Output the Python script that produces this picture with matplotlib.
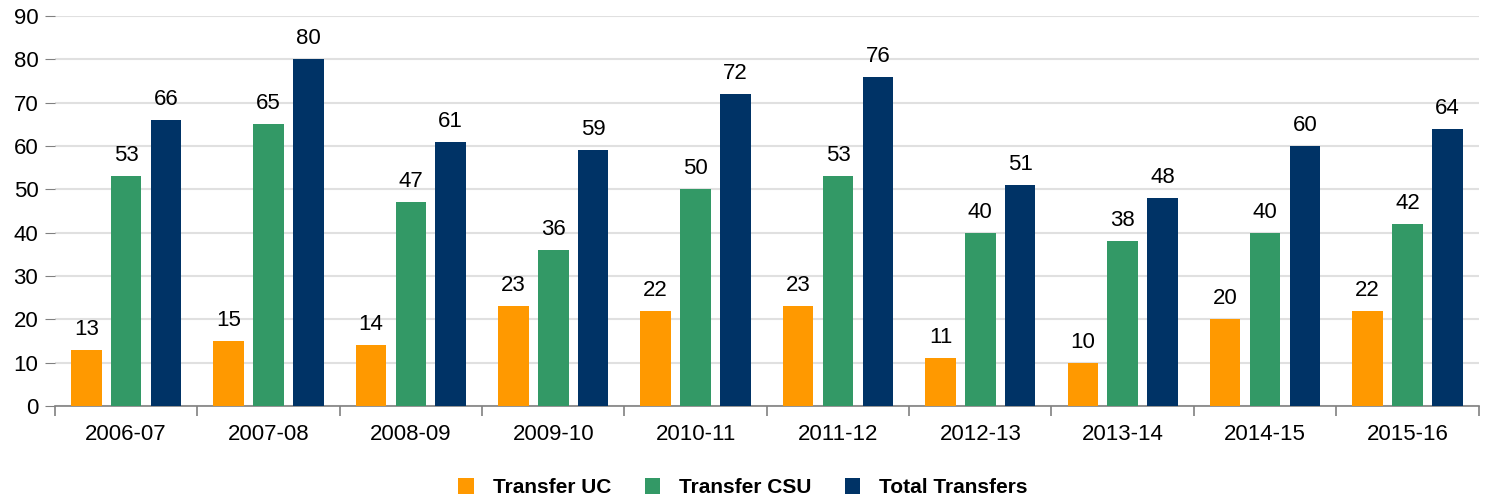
import numpy as np
import matplotlib.pyplot as plt

years = ["2006-07", "2007-08", "2008-09", "2009-10", "2010-11",
         "2011-12", "2012-13", "2013-14", "2014-15", "2015-16"]
transfer_uc = [13, 15, 14, 23, 22, 23, 11, 10, 20, 22]
transfer_csu = [53, 65, 47, 36, 50, 53, 40, 38, 40, 42]
total_transfers = [66, 80, 61, 59, 72, 76, 51, 48, 60, 64]

series = [("Transfer UC", transfer_uc, "#FF9900"),
          ("Transfer CSU", transfer_csu, "#339966"),
          ("Total Transfers", total_transfers, "#003366")]

plt.rcParams['font.family'] = ['Liberation Sans', 'DejaVu Sans']

fig = plt.figure(figsize=(14.86, 5.01), dpi=100)
ax = fig.add_axes([0.037, 0.19, 0.958, 0.778])

x = np.arange(len(years))
w = 0.215
step = 0.28
for i, (name, vals, col) in enumerate(series):
    pos = x + (i - 1) * step
    bars = ax.bar(pos, vals, width=w, color=col, label=name, zorder=3)
    for p, v in zip(pos, vals):
        ax.text(p, v + 2.3, str(v), ha='center', va='bottom', fontsize=16)

ax.set_xlim(-0.5, len(years) - 0.5)
ax.set_ylim(0, 90)
ax.set_yticks(range(0, 91, 10))
ax.tick_params(axis='y', labelsize=16, length=7, color='#808080', pad=5)
ax.grid(axis='y', color='#E0E0E0', linewidth=1.5, zorder=0)

ax.set_xticks(x)
ax.set_xticklabels(years, fontsize=16)
ax.tick_params(axis='x', length=0, pad=13)
ax.set_xticks(np.arange(-0.5, len(years)), minor=True)
ax.tick_params(axis='x', which='minor', length=7, color='#808080', width=1.2)

for s in ['top', 'right', 'left']:
    ax.spines[s].set_visible(False)
ax.spines['bottom'].set_color('#808080')
ax.spines['bottom'].set_linewidth(1.2)

leg = fig.legend(loc='lower center', bbox_to_anchor=(0.5, -0.03), ncol=3, frameon=False,
                 prop={'weight': 'bold', 'size': 15}, handlelength=0.75, handleheight=0.75,
                 columnspacing=1.6, handletextpad=0.9)

fig.savefig("out.png", dpi=100)
